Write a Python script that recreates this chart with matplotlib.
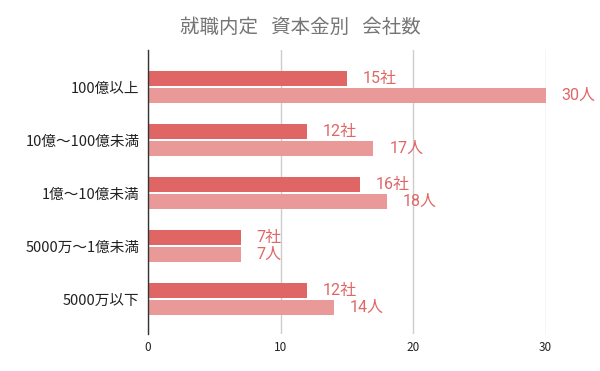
import numpy as np
import matplotlib
matplotlib.use("Agg")
import matplotlib.pyplot as plt

plt.rcParams['font.family'] = ['Noto Sans CJK JP', 'DejaVu Sans']

categories = ["100億以上", "10億〜100億未満", "1億〜10億未満", "5000万〜1億未満", "5000万以下"]
companies = [15, 12, 16, 7, 12]
people = [30, 17, 18, 7, 14]
xticks = [0, 10, 20, 30]

dark = "#e06666"
light = "#ea9999"

fig = plt.figure(figsize=(6, 3.71), dpi=100)
ax = fig.add_axes([0.2467, 0.0997, 0.6628, 0.7655])

y = np.arange(len(categories))
h = 0.28
off = 0.16
ax.barh(y - off, companies, height=h, color=dark, zorder=3)
ax.barh(y + off, people, height=h, color=light, zorder=3)

for yi, c, p in zip(y, companies, people):
    ax.annotate(f"{c}社", (c, yi - off), xytext=(11.5, 0), textcoords="offset points",
                va="center", ha="left", fontsize=11.5, color=dark,
                family=['Roboto', 'Noto Sans CJK JP'], annotation_clip=False)
    ax.annotate(f"{p}人", (p, yi + off), xytext=(11.5, 0), textcoords="offset points",
                va="center", ha="left", fontsize=11.5, color=dark,
                family=['Roboto', 'Noto Sans CJK JP'], annotation_clip=False)

ax.set_xlim(0, 30)
ax.set_ylim(4.66, -0.70)
ax.set_yticks(y)
ax.set_yticklabels(categories, fontsize=10.5, color="#222222")
ax.set_xticks(xticks)
ax.set_xticklabels([str(t) for t in xticks], fontsize=8.5, color="#222222")
ax.tick_params(axis="both", length=0)
ax.tick_params(axis="y", pad=6)
ax.tick_params(axis="x", pad=5)

for s in ["top", "right", "bottom"]:
    ax.spines[s].set_visible(False)
ax.spines["left"].set_color("#333333")
ax.spines["left"].set_linewidth(1)
ax.spines["left"].set_zorder(4)
ax.grid(axis="x", color="#cccccc", linewidth=1, zorder=0)

fig.text(0.5, 1 - 27 / 371, "就職内定   資本金別   会社数", ha="center", va="center",
         fontsize=14, color="#757575")

fig.savefig("out.png", dpi=100)
